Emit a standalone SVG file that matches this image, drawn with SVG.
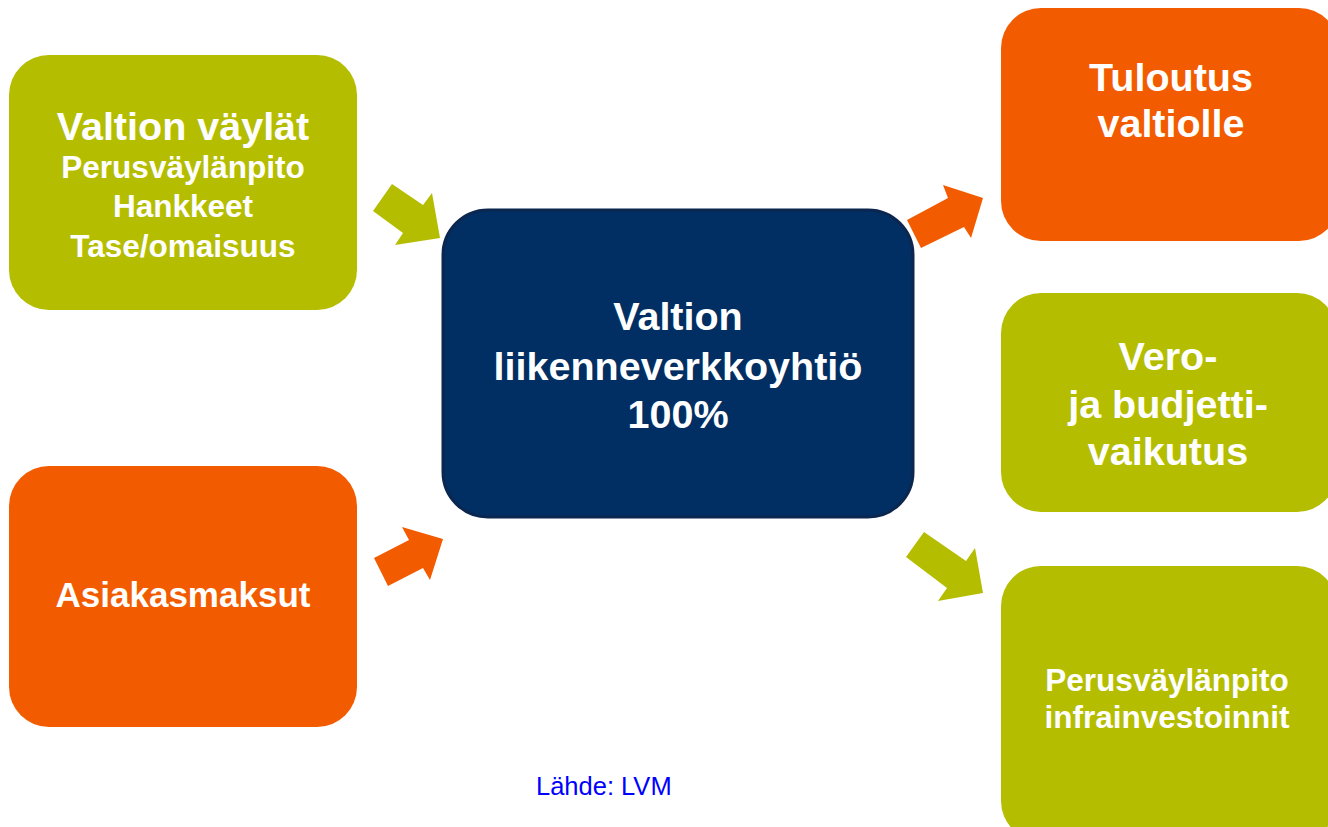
<svg xmlns="http://www.w3.org/2000/svg" width="1328" height="827" viewBox="0 0 1328 827">
<style>
.green{fill:#B5BD00}
.orange{fill:#F35B00}
.navy{fill:#012F63;stroke:#0B2750;stroke-width:3}
.t{font-family:"Liberation Sans",Arial,sans-serif;font-weight:bold;fill:#FFFFFF;text-anchor:middle}
.big{font-size:39.5px}
.mid{font-size:31.5px}
.asi{font-size:35px}
.src{font-family:"Liberation Sans",Arial,sans-serif;font-size:25.5px;fill:#0000FF}
</style>
<rect width="1328" height="827" fill="#FFFFFF"/>
<g id="connectors">
<polygon class="green" points="373,211 392,184 423,205 432,193 440,238 395,245 403,233"/>
<polygon class="orange" points="374,558 409,540 402,527 443,539 430,580 423,568 388,586"/>
<polygon class="orange" points="907,220 948,198 943,185 983,198 971,238 964,227 921,248"/>
<polygon class="green" points="924,532 966,561 975,548 983,593 938,601 947,588 906,557"/>
</g>
<g id="valtion-vaylat">
<rect class="green" x="9" y="55" width="348" height="255" rx="40" ry="40"/>
<text class="t big" x="183" y="140">Valtion väylät</text>
<text class="t mid" x="183" y="178">Perusväylänpito</text>
<text class="t mid" x="183" y="217">Hankkeet</text>
<text class="t mid" x="183" y="257">Tase/omaisuus</text>
</g>
<g id="asiakasmaksut">
<rect class="orange" x="9" y="466" width="348" height="261" rx="40" ry="40"/>
<text class="t asi" x="183" y="607">Asiakasmaksut</text>
</g>
<g id="liikenneverkkoyhtio">
<rect class="navy" x="443" y="210" width="470" height="307" rx="45" ry="45"/>
<text class="t big" x="678" y="330">Valtion</text>
<text class="t big" x="678" y="380">liikenneverkkoyhtiö</text>
<text class="t big" x="678" y="428">100%</text>
</g>
<g id="tuloutus">
<rect class="orange" x="1001" y="8" width="338" height="233" rx="40" ry="40"/>
<text class="t big" x="1171" y="91">Tuloutus</text>
<text class="t big" x="1171" y="137">valtiolle</text>
</g>
<g id="vero">
<rect class="green" x="1001" y="293" width="336" height="219" rx="40" ry="40"/>
<text class="t big" x="1168" y="370">Vero-</text>
<text class="t big" x="1168" y="418">ja budjetti-</text>
<text class="t big" x="1168" y="465">vaikutus</text>
</g>
<g id="perusvaylanpito">
<rect class="green" x="1001" y="566" width="336" height="275" rx="40" ry="40"/>
<text class="t mid" x="1167" y="691">Perusväylänpito</text>
<text class="t mid" x="1167" y="728">infrainvestoinnit</text>
</g>
<g id="source">
<text class="src" x="536" y="795">Lähde: LVM</text>
</g>
</svg>
